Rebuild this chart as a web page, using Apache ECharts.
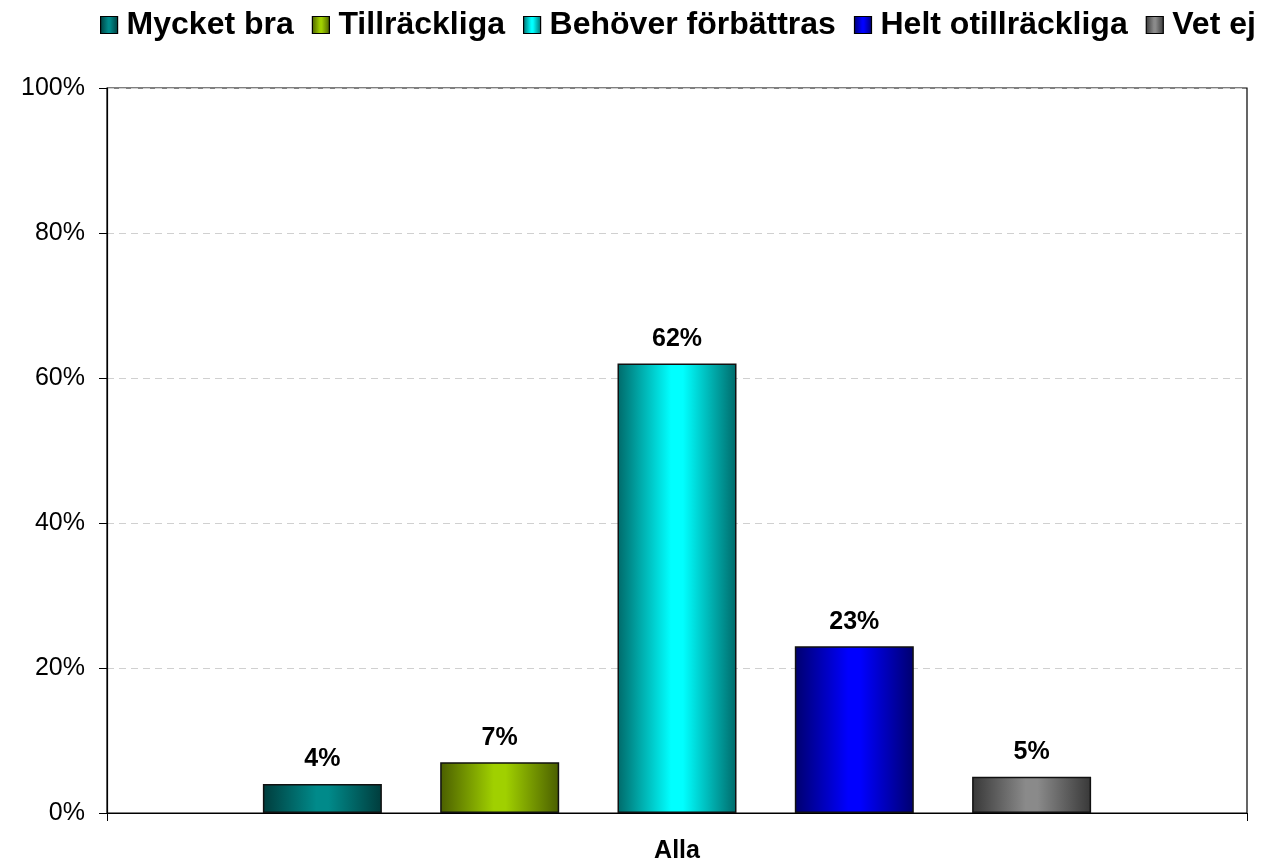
<!DOCTYPE html>
<html>
<head>
<meta charset="utf-8">
<script src="https://cdn.jsdelivr.net/npm/echarts@6/dist/echarts.min.js"></script>
<style>
  html, body { margin: 0; padding: 0; background: #fff; }
  #main { width: 1282px; height: 868px; }
</style>
</head>
<body>
<div id="main"></div>
<script>
var chart = echarts.init(document.getElementById('main'));

// data
var categories = ['Alla'];
var seriesNames = ['Mycket bra', 'Tillräckliga', 'Behöver förbättras', 'Helt otillräckliga', 'Vet ej'];
var values = [4, 7, 62, 23, 5];
var yTicks = [0, 20, 40, 60, 80, 100];

// kant- och mittfärg för varje stapel
var edgeColors = ['#003c3c', '#4a5e00', '#006a6a', '#00006e', '#383838'];
var midColors = ['#008a8a', '#a0d000', '#00ffff', '#0000ff', '#8a8a8a'];

function grad(i) {
  return new echarts.graphic.LinearGradient(0, 0, 1, 0, [
    { offset: 0, color: edgeColors[i] },
    { offset: 0.45, color: midColors[i] },
    { offset: 0.55, color: midColors[i] },
    { offset: 1, color: edgeColors[i] }
  ]);
}

var series = seriesNames.map(function (name, i) {
  return {
    name: name,
    type: 'bar',
    barWidth: 119,
    barGap: '49%',
    data: [values[i]],
    itemStyle: {
      color: grad(i),
      borderColor: '#111',
      borderWidth: 1.5
    },
    label: {
      show: true,
      position: 'top',
      distance: 12,
      formatter: '{c}%',
      fontFamily: 'Liberation Sans, Arial',
      fontWeight: 'bold',
      fontSize: 25,
      color: '#000'
    }
  };
});

var option = {
  animation: false,
  legend: {
    top: 4,
    left: 95,
    itemWidth: 17,
    itemHeight: 17,
    itemGap: 18,
    icon: 'rect',
    itemStyle: { borderColor: '#000', borderWidth: 1.2 },
    textStyle: {
      fontFamily: 'Liberation Sans, Arial',
      fontWeight: 'bold',
      fontSize: 32,
      color: '#000',
      padding: [0, 0, 0, 4]
    },
    data: seriesNames
  },
  grid: {
    left: 107,
    right: 35,
    top: 88,
    bottom: 55,
    show: true,
    borderColor: '#000',
    borderWidth: 1.2
  },
  xAxis: {
    type: 'category',
    data: categories,
    axisLine: { lineStyle: { color: '#000', width: 1.2 } },
    axisTick: { show: true, length: 8, lineStyle: { color: '#000' } },
    axisLabel: {
      margin: 26,
      fontFamily: 'Liberation Sans, Arial',
      fontWeight: 'bold',
      fontSize: 25,
      color: '#000'
    }
  },
  yAxis: {
    type: 'value',
    min: 0,
    max: 100,
    interval: 20,
    axisLine: { show: true, lineStyle: { color: '#000', width: 1.2 } },
    axisTick: { show: true, length: 8, inside: false, lineStyle: { color: '#000' } },
    axisLabel: {
      margin: 22,
      fontFamily: 'Liberation Sans, Arial',
      fontSize: 25,
      color: '#000',
      formatter: function (v) { return yTicks.indexOf(v) >= 0 ? v + '%' : ''; }
    },
    splitLine: { lineStyle: { color: '#d0d0d0', type: [7, 5], width: 1 } }
  },
  series: series
};

chart.setOption(option);
</script>
</body>
</html>
